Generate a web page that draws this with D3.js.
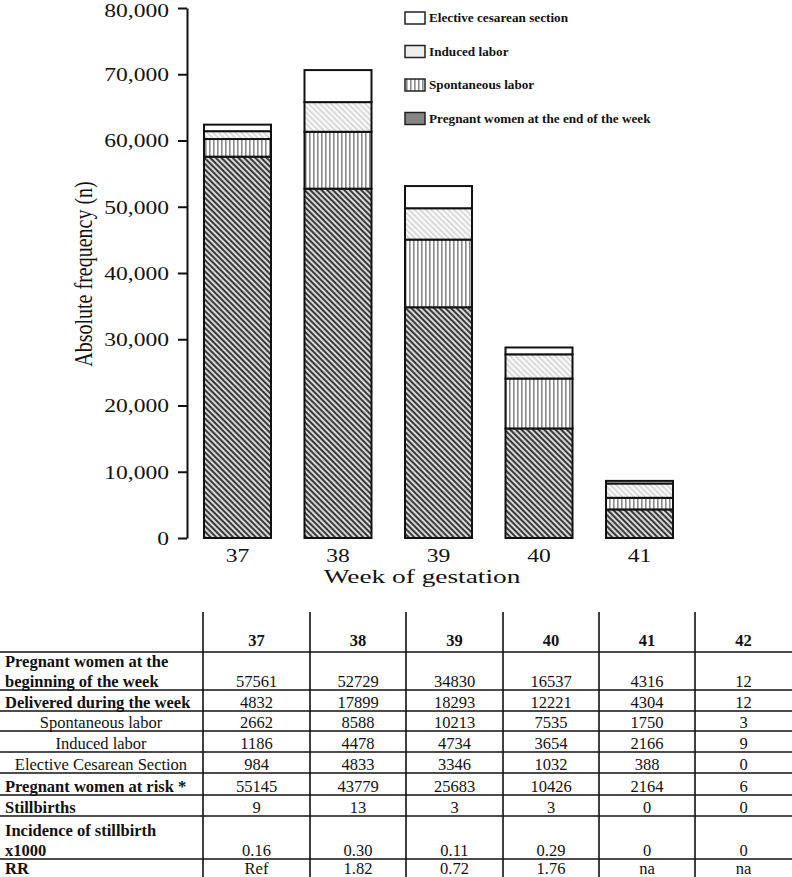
<!DOCTYPE html>
<html>
<head>
<meta charset="utf-8">
<script src="https://cdn.jsdelivr.net/npm/d3@7"></script>
<style>
  html, body { margin: 0; padding: 0; background: #fff; }
  svg { display: block; }
  text { font-family: "Liberation Serif", "Times New Roman", serif; fill: #111; }
</style>
</head>
<body>
<div id="chart"></div>
<script>
// ---------------- data ----------------
const weeks = ["37", "38", "39", "40", "41"];
const endOfWeek   = [57561, 52729, 34830, 16537, 4316];
const spontaneous = [2662, 8588, 10213, 7535, 1750];
const induced     = [1186, 4478, 4734, 3654, 2166];
const elective    = [984, 4833, 3346, 1032, 388];
const seriesNames = ["Pregnant women at the end of the week", "Spontaneous labor", "Induced labor", "Elective cesarean section"];
const yTicks = [0, 10000, 20000, 30000, 40000, 50000, 60000, 70000, 80000];

const tableCols = ["37", "38", "39", "40", "41", "42"];
const rowLabels = [
  ["Pregnant women at the", "beginning of the week"],
  ["Delivered during the week"],
  ["Spontaneous labor"],
  ["Induced labor"],
  ["Elective Cesarean Section"],
  ["Pregnant women at risk *"],
  ["Stillbirths"],
  ["Incidence of stillbirth", "x1000"],
  ["RR"]
];
const rowBold = [true, true, false, false, false, true, true, true, true];
const rowValues = [
  ["57561", "52729", "34830", "16537", "4316", "12"],
  ["4832", "17899", "18293", "12221", "4304", "12"],
  ["2662", "8588", "10213", "7535", "1750", "3"],
  ["1186", "4478", "4734", "3654", "2166", "9"],
  ["984", "4833", "3346", "1032", "388", "0"],
  ["55145", "43779", "25683", "10426", "2164", "6"],
  ["9", "13", "3", "3", "0", "0"],
  ["0.16", "0.30", "0.11", "0.29", "0", "0"],
  ["Ref", "1.82", "0.72", "1.76", "na", "na"]
];

// ---------------- layout ----------------
const W = 792, H = 877;
const svg = d3.select("#chart").append("svg").attr("width", W).attr("height", H);
const defs = svg.append("defs");

// patterns
const pHatch = defs.append("pattern").attr("id", "hatchDark").attr("patternUnits", "userSpaceOnUse")
  .attr("width", 4).attr("height", 4).attr("patternTransform", "rotate(-45)");
pHatch.append("rect").attr("width", 4).attr("height", 4).attr("fill", "#d8d8d8");
pHatch.append("rect").attr("x", 0).attr("width", 2).attr("height", 4).attr("fill", "#3a3a3a");

const pVert = defs.append("pattern").attr("id", "vert").attr("patternUnits", "userSpaceOnUse")
  .attr("width", 4).attr("height", 4);
pVert.append("rect").attr("width", 4).attr("height", 4).attr("fill", "#fff");
pVert.append("rect").attr("x", 1).attr("width", 1.6).attr("height", 4).attr("fill", "#8a8a8a");

const pLight = defs.append("pattern").attr("id", "hatchLight").attr("patternUnits", "userSpaceOnUse")
  .attr("width", 4).attr("height", 4).attr("patternTransform", "rotate(-45)");
pLight.append("rect").attr("width", 4).attr("height", 4).attr("fill", "#fafafa");
pLight.append("rect").attr("x", 0).attr("width", 1.5).attr("height", 4).attr("fill", "#d0d0d0");

const fills = ["url(#hatchDark)", "url(#vert)", "url(#hatchLight)", "#fff"];
const legendFills = ["#858585", "url(#vert)", "#eeeeee", "#fff"];

// scales
const y = d3.scaleLinear().domain([0, 80000]).range([538, 8]);
const x = d3.scaleBand().domain(weeks).range([187, 690]).paddingInner(1 / 3).paddingOuter(0.169);

const rows = weeks.map((w, i) => ({ week: w, s0: endOfWeek[i], s1: spontaneous[i], s2: induced[i], s3: elective[i] }));
const stack = d3.stack().keys(["s0", "s1", "s2", "s3"])(rows);

const sx = 1.31;

// bars
svg.append("g").selectAll("g").data(stack).join("g")
  .attr("fill", (d, i) => fills[i])
  .selectAll("rect").data(d => d).join("rect")
  .attr("x", d => x(d.data.week))
  .attr("width", x.bandwidth())
  .attr("y", d => y(d[1]))
  .attr("height", d => y(d[0]) - y(d[1]))
  .attr("stroke", "#111").attr("stroke-width", 2);

// y axis
const yAxis = svg.append("g").attr("transform", "translate(187,0)")
  .call(d3.axisLeft(y).tickValues(yTicks).tickFormat(d3.format(",")).tickSize(9).tickSizeOuter(0));
yAxis.select(".domain").attr("stroke", "#111").attr("stroke-width", 2);
yAxis.selectAll(".tick line").attr("stroke", "#111").attr("stroke-width", 2);
yAxis.selectAll(".tick text")
  .attr("x", 0).attr("dy", d => d === 80000 ? "0.45em" : "0.35em")
  .attr("transform", `translate(-18,0) scale(${sx},1)`)
  .style("font-family", "'Liberation Serif', serif").style("font-size", "18px").attr("fill", "#111");

// x labels
svg.append("g").selectAll("text").data(weeks).join("text")
  .attr("text-anchor", "middle")
  .attr("transform", d => `translate(${x(d) + x.bandwidth() / 2},562) scale(${sx},1)`)
  .style("font-size", "18px")
  .text(d => d);

svg.append("text").attr("text-anchor", "middle")
  .attr("transform", `translate(422,583) scale(1.52,1)`)
  .style("font-size", "18px")
  .text("Week of gestation");

svg.append("text").attr("text-anchor", "middle")
  .attr("transform", `translate(92,274) scale(1.3,1) rotate(-90)`)
  .style("font-size", "20px")
  .text("Absolute frequency (n)");

// legend (top to bottom: elective, induced, spontaneous, end of week)
const legendOrder = [3, 2, 1, 0];
const leg = svg.append("g").selectAll("g").data(legendOrder).join("g")
  .attr("transform", (d, i) => `translate(405,${12 + i * 33.5})`);
leg.append("rect").attr("width", 20).attr("height", 12)
  .attr("fill", d => legendFills[d]).attr("stroke", "#222").attr("stroke-width", 1.5);
leg.append("text")
  .attr("transform", `translate(24,10) scale(1.1,1)`)
  .style("font-size", "12px").style("font-weight", "bold")
  .text(d => seriesNames[d]);

// ---------------- table ----------------
const colEdges = [203, 310, 406, 503, 599, 695, 792];
const tableTop = 612, headerBottom = 652;
const rowBottoms = [690, 711, 731, 752, 773, 795, 816, 859, 877];
const tbl = svg.append("g");

// vertical lines
tbl.selectAll("line.v").data(colEdges.slice(0, 6)).join("line")
  .attr("x1", d => d).attr("x2", d => d).attr("y1", tableTop).attr("y2", H)
  .attr("stroke", "#111").attr("stroke-width", 1.6);
// horizontal lines
tbl.selectAll("line.h").data([headerBottom].concat(rowBottoms.slice(0, -1))).join("line")
  .attr("x1", 0).attr("x2", W).attr("y1", d => d).attr("y2", d => d)
  .attr("stroke", "#111").attr("stroke-width", 1.6);

const colCenter = i => (colEdges[i] + colEdges[i + 1]) / 2;

// header
tbl.selectAll("text.hdr").data(tableCols).join("text")
  .attr("x", (d, i) => colCenter(i)).attr("y", 646)
  .attr("text-anchor", "middle")
  .style("font-size", "16.5px").style("font-weight", "bold")
  .text(d => d);

// rows
rowLabels.forEach((lab, r) => {
  const base = rowBottoms[r] - 3;
  const n = lab.length;
  lab.forEach((line, k) => {
    const t = tbl.append("text")
      .attr("y", base - (n - 1 - k) * 20)
      .style("font-size", "16.5px")
      .style("font-weight", rowBold[r] ? "bold" : "normal")
      .text(line);
    if (rowBold[r]) t.attr("x", 5).attr("text-anchor", "start");
    else t.attr("x", 101).attr("text-anchor", "middle");
  });
  rowValues[r].forEach((v, c) => {
    tbl.append("text")
      .attr("x", colCenter(c)).attr("y", base)
      .attr("text-anchor", "middle")
      .style("font-size", "16.5px")
      .text(v);
  });
});
</script>
</body>
</html>
